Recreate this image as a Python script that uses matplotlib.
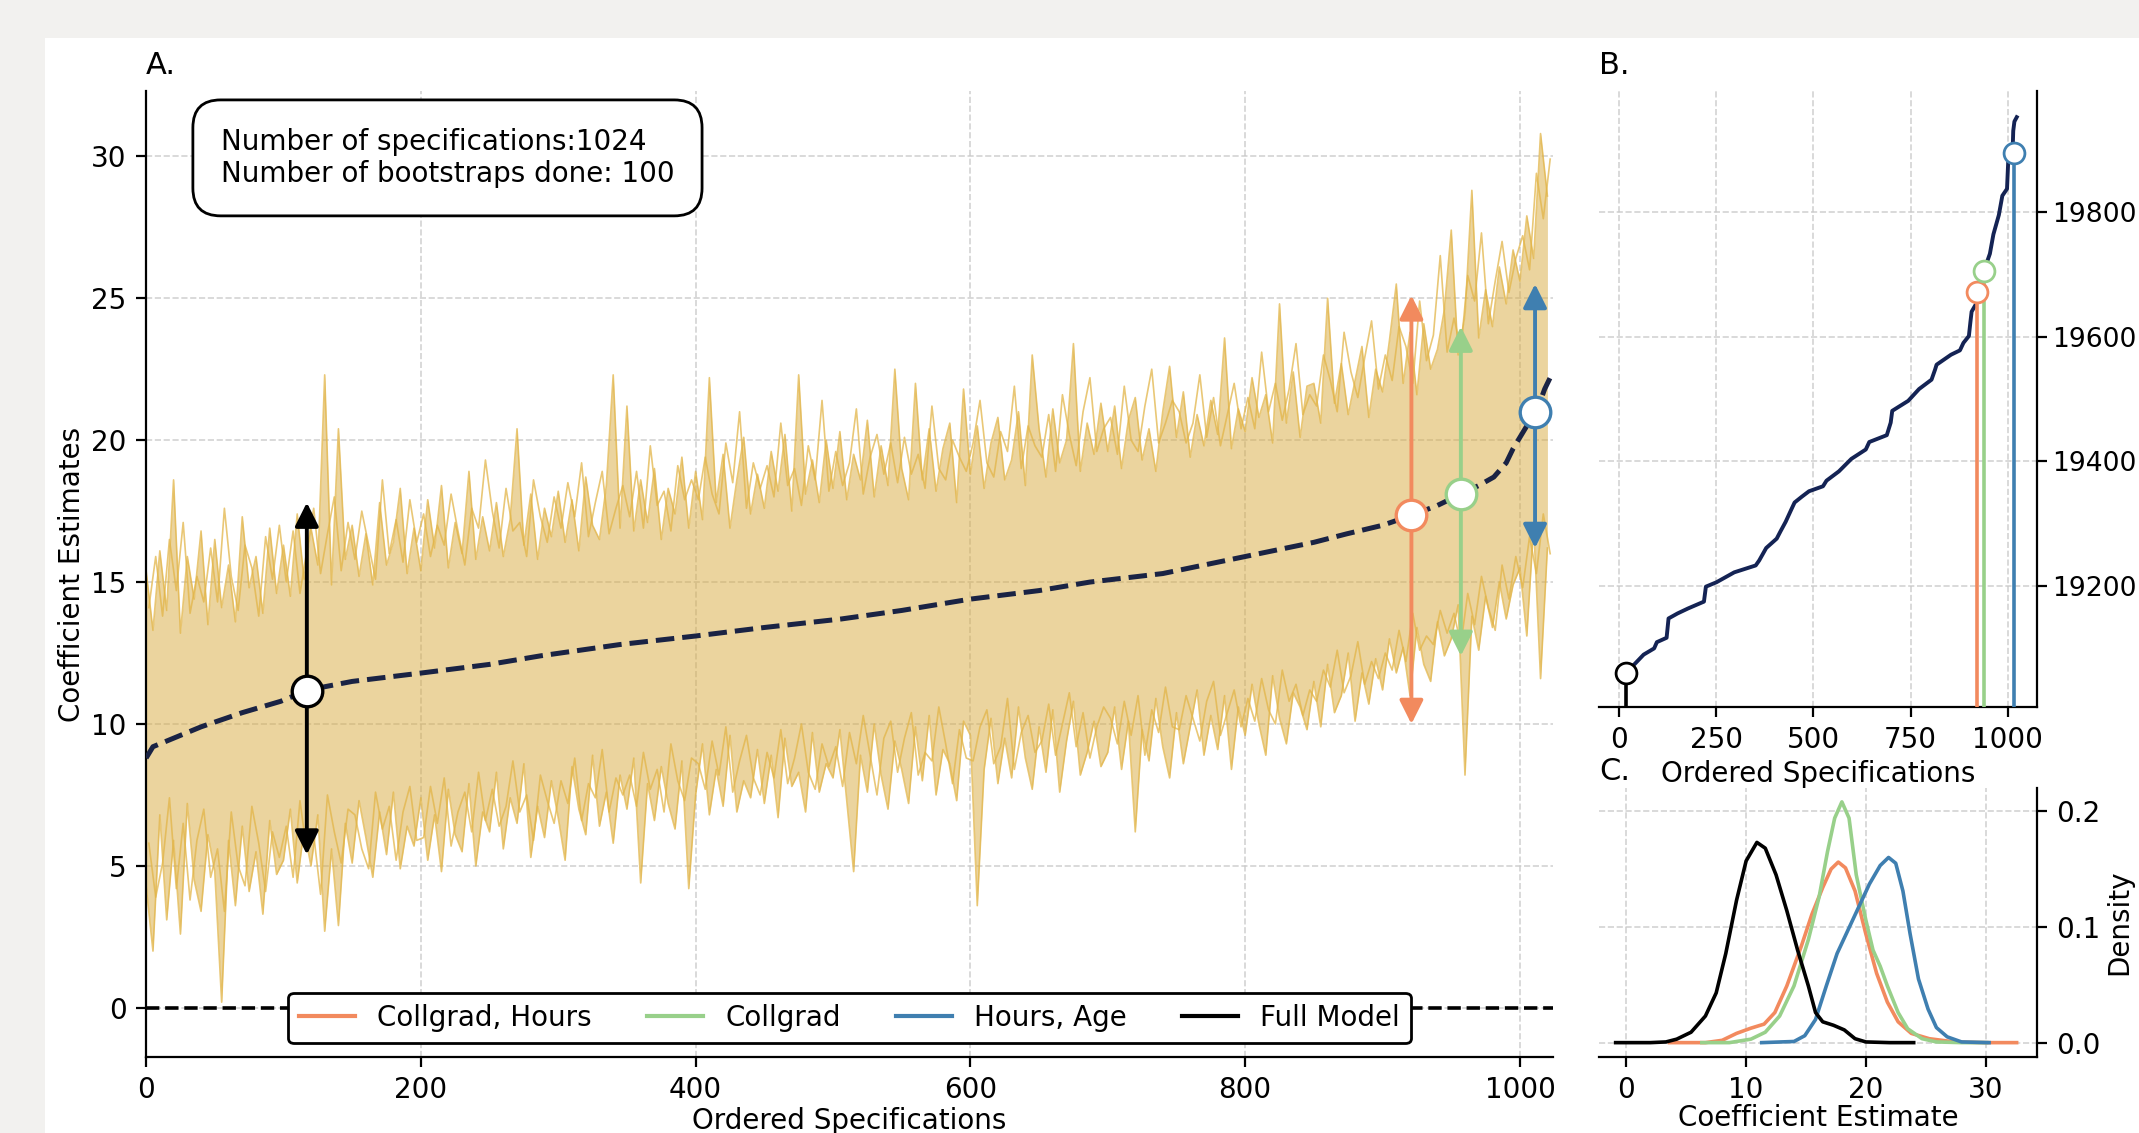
"""Specification curve figure: bootstrapped coefficient band (A),
ordered information criterion (B) and coefficient densities (C)."""

import numpy as np
import matplotlib

matplotlib.use("Agg")
import matplotlib.pyplot as plt
from matplotlib.lines import Line2D
from matplotlib.patches import Rectangle

plt.rcParams["font.size"] = 10

# ---- panel A: bootstrap band, sampled every 5 specifications ----
band_spec = np.arange(0, 1021, 5)
band_upper = [
    15.4, 13.3, 16.1, 14.0, 18.6, 13.2, 15.9, 14.4, 16.8, 13.5,
    16.5, 14.1, 15.6, 13.6, 17.3, 14.8, 15.9, 13.9, 16.9, 14.6,
    16.3, 14.5, 17.4, 15.1, 16.9, 15.6, 22.3, 14.9, 20.4, 15.8,
    17.0, 15.2, 16.7, 14.9, 17.8, 15.6, 16.4, 18.3, 15.3, 16.9,
    15.4, 17.9, 16.2, 18.4, 15.5, 17.1, 16.0, 18.9, 15.8, 17.3,
    16.1, 17.8, 15.9, 17.2, 20.4, 16.3, 18.1, 15.8, 17.6, 16.6,
    18.2, 16.4, 17.9, 16.1, 18.7, 17.0, 16.5, 18.4, 22.3, 16.9,
    21.2, 16.8, 18.6, 17.1, 19.0, 16.5, 18.3, 17.4, 19.4, 16.9,
    18.9, 17.2, 22.2, 17.8, 19.5, 16.9, 18.6, 20.1, 17.4, 18.8,
    17.6, 19.6, 18.2, 20.2, 17.5, 22.3, 18.1, 19.3, 17.8, 20.0,
    18.3, 20.3, 17.9, 19.5, 18.6, 20.7, 18.0, 19.8, 18.4, 22.5,
    19.0, 17.9, 22.0, 18.6, 20.4, 18.2, 19.7, 20.6, 17.8, 21.8,
    18.8, 20.5, 18.3, 19.9, 20.8, 18.6, 19.3, 21.0, 18.4, 23.0,
    20.4, 18.7, 21.1, 19.2, 20.0, 23.4, 18.9, 20.6, 19.5, 21.3,
    19.6, 21.2, 19.0, 20.7, 21.5, 19.3, 20.4, 18.9, 21.0, 22.6,
    20.1, 21.7, 19.4, 20.9, 19.8, 21.4, 20.2, 23.6, 19.7, 21.1,
    20.3, 22.2, 20.8, 21.6, 19.9, 24.8, 20.6, 22.4, 20.1, 21.9,
    22.0, 20.6, 25.0, 21.3, 22.7, 20.9, 22.1, 23.3, 20.8, 22.5,
    21.7, 23.5, 25.5, 22.0, 23.8, 21.6, 24.1, 22.5, 23.2, 24.6,
    27.4, 23.0, 24.4, 28.8, 23.6, 25.3, 24.0, 26.1, 24.8, 26.7,
    25.6, 27.9, 26.4, 30.8, 28.6,
]
band_lower = [
    4.3, 2.0, 6.8, 3.1, 5.9, 2.6, 7.2, 4.5, 3.4, 6.1,
    4.8, 0.2, 5.9, 3.6, 6.4, 4.1, 5.5, 3.3, 6.6, 4.7,
    5.2, 7.0, 4.4, 6.3, 5.0, 6.8, 2.7, 5.6, 2.9, 6.5,
    5.1, 7.3, 6.0, 4.6, 6.9, 5.4, 7.6, 4.9, 6.4, 5.7,
    7.4, 5.2, 6.8, 4.8, 7.7, 6.1, 5.5, 7.9, 5.0, 6.9,
    6.2, 8.3, 5.6, 7.4, 6.5, 8.6, 5.3, 7.1, 6.0, 8.0,
    6.7, 5.2, 8.5, 7.0, 6.1, 8.9, 6.4, 7.6, 5.8, 8.2,
    7.0, 8.8, 4.4, 7.9, 6.6, 8.5, 7.2, 6.3, 8.7, 4.2,
    7.5, 9.3, 6.8, 8.4, 7.1, 9.6, 6.9, 8.0, 7.4, 9.1,
    7.2, 8.9, 6.7, 9.5, 7.8, 8.3, 6.9, 9.7, 7.6, 8.6,
    8.1, 9.8, 7.3, 4.8, 8.9, 7.6, 10.0, 8.2, 7.0, 9.4,
    8.4, 7.2, 9.9, 8.0, 10.3, 7.5, 9.1, 8.6, 7.3, 10.1,
    9.6, 3.6, 8.4, 10.2, 7.9, 9.5, 8.1, 10.6, 8.8, 7.7,
    9.9, 8.3, 10.5, 7.6, 9.4, 10.8, 8.2, 9.0, 10.1, 8.5,
    9.0, 10.6, 8.4, 10.1, 6.2, 9.8, 8.7, 10.9, 9.2, 8.1,
    10.4, 8.6, 9.9, 11.2, 8.9, 10.3, 9.1, 11.0, 8.4, 10.6,
    9.6, 11.4, 10.0, 8.9, 11.7, 10.2, 9.3, 11.1, 10.6, 9.8,
    11.5, 9.9, 12.1, 10.4, 11.0, 12.5, 10.1, 11.8, 10.7, 12.3,
    11.2, 13.0, 11.8, 12.7, 11.0, 13.4, 12.1, 11.5, 13.6, 12.4,
    13.0, 14.2, 8.2, 13.8, 12.6, 14.5, 13.4, 15.0, 13.7, 14.9,
    15.5, 13.1, 17.0, 11.6, 16.2,
]

# second bootstrap bound line, sampled in between (specs 2, 7, 12, ...)
band_spec_b = np.arange(2, 1023, 5)
band_upper_b = [
    14.1, 15.9, 13.8, 16.5, 14.7, 17.1, 13.9, 15.2, 14.3, 16.2,
    14.3, 17.6, 15.2, 14.0, 16.3, 15.5, 13.8, 16.6, 15.1, 17.0,
    15.0, 16.8, 14.6, 16.1, 17.6, 15.3, 16.7, 18.0, 15.4, 17.1,
    15.8, 17.5, 16.3, 15.1, 18.6, 16.0, 17.2, 15.7, 17.9, 16.4,
    17.4, 15.9, 17.0, 16.3, 18.1, 16.8, 15.6, 17.6, 16.9, 19.3,
    17.5, 16.2, 18.3, 16.8, 17.1, 15.9, 18.6, 17.3, 16.4, 18.0,
    16.9, 18.5, 17.3, 19.2, 16.6, 17.8, 18.9, 16.7, 17.6, 18.4,
    17.3, 18.9, 16.9, 19.8, 17.7, 18.2, 16.8, 19.1, 17.9, 18.6,
    17.9, 19.4, 18.1, 17.4, 19.9, 18.5, 21.0, 17.6, 19.2, 18.3,
    19.1, 18.0, 20.6, 18.4, 19.0, 17.7, 19.8, 18.6, 21.4, 18.2,
    19.6, 18.4, 19.2, 21.1, 18.1, 19.4, 20.2, 18.8, 19.9, 18.5,
    20.1, 18.8, 19.5, 18.3, 21.2, 19.0, 18.6, 20.0, 19.4, 18.9,
    19.9, 21.4, 19.2, 18.7, 20.3, 19.6, 21.9, 19.0, 20.5, 19.8,
    19.4, 20.9, 18.9, 21.6, 20.2, 19.1, 21.0, 22.2, 19.6, 20.4,
    20.8, 19.5, 21.9, 20.0, 19.6, 21.2, 22.5, 19.9, 20.6, 21.4,
    21.0, 19.9, 20.6, 22.3, 20.1, 21.5, 19.8, 20.9, 22.0, 20.4,
    21.5, 20.4, 23.1, 21.0, 22.0, 20.7, 21.8, 23.4, 20.9, 21.6,
    21.2, 23.0, 22.1, 21.0, 23.8, 22.4, 21.5, 22.9, 24.2, 21.8,
    23.0, 22.1, 24.0, 23.3, 22.0, 24.9, 22.8, 23.7, 26.5, 23.1,
    24.3, 23.2, 25.8, 24.9, 27.3, 24.1, 25.6, 27.0, 25.2, 26.4,
    27.2, 26.0, 29.4, 27.8, 29.9,
]
band_lower_b = [
    5.8, 3.9, 5.1, 7.4, 4.2, 6.5, 3.8, 5.9, 7.0, 4.6,
    5.6, 3.4, 6.9, 5.0, 4.3, 7.1, 5.8, 4.1, 6.2, 5.3,
    6.4, 4.6, 7.3, 5.5, 6.1, 4.0, 7.5, 6.2, 5.1, 7.0,
    6.8, 5.6, 4.9, 7.6, 6.3, 7.1, 5.2, 6.9, 7.8, 5.9,
    6.0, 7.8, 6.5, 8.1, 5.7, 6.9, 7.6, 6.2, 8.3, 6.6,
    7.7, 6.4, 7.1, 8.7, 6.9, 7.5, 5.9, 8.2, 7.3, 6.5,
    8.0, 7.2, 8.8, 6.6, 7.9, 7.4, 9.1, 6.9, 8.1, 7.5,
    8.2, 7.1, 9.0, 7.7, 8.4, 6.9, 9.3, 8.0, 7.3, 8.8,
    8.6, 7.7, 9.4, 8.2, 9.9, 7.6, 8.7, 9.6, 8.1, 7.5,
    9.0, 8.1, 9.8, 7.9, 8.8, 10.0, 8.3, 7.7, 9.3, 8.5,
    9.2, 7.8, 9.7, 8.6, 10.3, 8.9, 7.5, 9.5, 10.1, 8.3,
    9.5, 10.4, 8.2, 9.0, 8.7, 10.6, 9.3, 7.9, 9.8, 8.8,
    8.7, 9.9, 10.5, 8.6, 9.2, 10.9, 8.4, 9.7, 10.3, 9.0,
    9.4, 10.7, 8.9, 10.0, 11.1, 9.2, 10.4, 8.8, 9.9, 10.6,
    10.2, 9.3, 10.8, 9.6, 11.0, 8.9, 10.5, 9.7, 11.3, 9.9,
    9.8, 11.0, 10.2, 9.4, 10.8, 11.5, 9.6, 10.4, 11.2, 9.9,
    10.9, 10.1, 11.6, 10.5, 10.0, 11.9, 10.8, 11.4, 10.3, 11.2,
    10.8, 11.9, 11.3, 12.6, 11.1, 11.7, 12.9, 11.4, 12.2, 11.6,
    12.5, 11.9, 13.3, 12.2, 13.9, 12.6, 13.1, 12.8, 14.0, 13.2,
    13.9, 12.8, 14.6, 13.5, 15.2, 14.1, 13.3, 15.6, 14.4, 15.9,
    14.8, 16.6, 15.3, 17.4, 16.0,
]

# median coefficient of the ordered specifications
median_spec = [0, 5, 10, 40, 70, 98, 118, 150, 201, 250, 287, 345, 400, 450,
               506, 550, 600, 650, 687, 740, 800, 850, 874, 900, 921, 940,
               957, 970, 981, 990, 995, 1005, 1012, 1018, 1023]
median_coef = [8.8, 9.2, 9.3, 9.9, 10.4, 10.8, 11.2, 11.5, 11.8, 12.1, 12.4,
               12.8, 13.1, 13.4, 13.7, 14.0, 14.4, 14.7, 15.0, 15.3, 15.9,
               16.4, 16.7, 17.0, 17.35, 17.7, 18.1, 18.4, 18.7, 19.2, 19.7,
               20.5, 21.0, 21.8, 22.3]

# highlighted models
model_names = ["Collgrad, Hours", "Collgrad", "Hours, Age", "Full Model"]
model_colors = ["#f28a5e", "#98d08a", "#3f7fb0", "black"]
model_rank_a = [921, 957, 1011, 117]
model_coef = [17.35, 18.1, 21.0, 11.15]
model_ci_low = [10.0, 12.4, 16.2, 5.4]
model_ci_high = [25.1, 24.0, 25.5, 17.8]
model_rank_b = [922, 939, 1015, 18]
model_ic = [19671, 19706, 19895, 19061]

n_specs = 1024
n_boot = 100

# ---- panel B: ordered information criterion ----
ic_spec = [0, 41, 64, 91, 98, 123, 128, 151, 178, 219, 224, 251, 297, 352,
           361, 379, 406, 416, 429, 443, 452, 470, 489, 525, 534, 566, 598,
           635, 644, 689, 699, 703, 744, 772, 804, 813, 817, 854, 877, 886,
           900, 904, 907, 918, 930, 954, 963, 977, 986, 998, 1001, 1012,
           1014, 1017, 1023]
ic_value = [19052, 19075, 19090, 19100, 19110, 19117, 19148, 19156, 19164,
            19175, 19199, 19206, 19222, 19233, 19241, 19261, 19276, 19288,
            19303, 19322, 19334, 19343, 19352, 19360, 19369, 19384, 19404,
            19419, 19431, 19442, 19462, 19481, 19497, 19516, 19531, 19547,
            19555, 19571, 19578, 19590, 19601, 19624, 19640, 19652, 19690,
            19733, 19764, 19795, 19826, 19837, 19880, 19890, 19930, 19945,
            19952]

# ---- panel C: coefficient densities ----
dens_x = {
    "Collgrad, Hours": [3.6, 6.6, 8.0, 9.2, 10.4, 11.5, 12.4, 13.4, 14.6, 15.5,
                        16.4, 17.1, 17.7, 18.3, 19.1, 20.0, 20.9, 21.8, 22.7,
                        23.8, 25.3, 27.4, 30.0, 32.6],
    "Collgrad": [6.3, 8.6, 10.4, 11.6, 12.8, 14.0, 15.2, 16.1, 16.8, 17.4, 18.0,
                 18.6, 19.2, 20.0, 20.6, 21.2, 21.8, 22.7, 23.5, 24.7, 25.9,
                 28.0, 30.1],
    "Hours, Age": [11.3, 14.0, 14.9, 15.8, 16.7, 17.6, 18.5, 19.4, 20.3, 21.2,
                   21.9, 22.5, 23.1, 23.7, 24.4, 25.2, 25.9, 26.8, 28.0, 30.3],
    "Full Model": [-0.9, 2.0, 3.3, 4.2, 5.4, 6.6, 7.5, 8.3, 9.2, 10.0, 10.9,
                   11.6, 12.5, 13.4, 14.3, 15.2, 15.8, 16.4, 17.3, 18.2, 19.1,
                   20.0, 22.0, 24.0],
}
dens_y = {
    "Collgrad, Hours": [0, 0, 0.002, 0.008, 0.0125, 0.016, 0.026, 0.049, 0.083,
                        0.111, 0.134, 0.150, 0.156, 0.151, 0.131, 0.094, 0.060,
                        0.035, 0.018, 0.008, 0.0034, 0.0006, 0, 0],
    "Collgrad": [0, 0, 0.003, 0.009, 0.023, 0.049, 0.089, 0.126, 0.165, 0.194,
                 0.208, 0.194, 0.145, 0.106, 0.080, 0.066, 0.049, 0.026, 0.012,
                 0.0034, 0.0006, 0, 0],
    "Hours, Age": [0, 0.001, 0.006, 0.020, 0.049, 0.077, 0.097, 0.117, 0.137,
                   0.153, 0.160, 0.155, 0.131, 0.094, 0.055, 0.029, 0.013,
                   0.005, 0.0006, 0],
    "Full Model": [0, 0, 0.0006, 0.003, 0.009, 0.023, 0.043, 0.077, 0.123,
                   0.157, 0.173, 0.168, 0.145, 0.114, 0.080, 0.049, 0.026,
                   0.018, 0.015, 0.011, 0.0034, 0.0006, 0, 0],
}

GRID = dict(color="#c8c8c8", linestyle="--", linewidth=0.6, alpha=0.8)
BAND_LINE = "#e2b548"

fig = plt.figure(figsize=(2139 / 200, 1133 / 200), dpi=200)
fig.patch.set_facecolor("#f2f1ef")
fig.add_artist(Rectangle((45 / 2139, 0), 1, 1 - 38 / 1133,
                         transform=fig.transFigure, fc="white", ec="none",
                         zorder=-10))

ax_a = fig.add_axes([0.0683, 0.0671, 0.6577, 0.8526])
ax_b = fig.add_axes([0.7475, 0.376, 0.2048, 0.5437])
ax_c = fig.add_axes([0.7475, 0.0675, 0.2048, 0.237])

# ---- A ----
ax_a.fill_between(band_spec, band_lower, band_upper, color="#d9ad45",
                  alpha=0.52, lw=0, zorder=1)
for xs, ys in [(band_spec, band_upper), (band_spec, band_lower),
               (band_spec_b, band_upper_b), (band_spec_b, band_lower_b)]:
    ax_a.plot(xs, ys, color=BAND_LINE, lw=0.6, alpha=0.75, zorder=2)
ax_a.axhline(0, color="black", ls="--", lw=1.3, zorder=2)
ax_a.plot(median_spec, median_coef, color="#1a2344", ls="--", lw=1.8, zorder=3)

for rank, coef, lo, hi, col in zip(model_rank_a, model_coef, model_ci_low,
                                   model_ci_high, model_colors):
    ax_a.annotate("", xy=(rank, hi), xytext=(rank, lo),
                  arrowprops=dict(arrowstyle="<|-|>", color=col, lw=1.4,
                                  mutation_scale=18, shrinkA=0, shrinkB=0),
                  zorder=4)
    ax_a.plot(rank, coef, "o", ms=11, mfc="white", mec=col, mew=1.2, zorder=5)

ax_a.text(0.053, 0.962,
          f"Number of specifications:{n_specs}\nNumber of bootstraps done: {n_boot}",
          transform=ax_a.transAxes, ha="left", va="top", zorder=6,
          bbox=dict(boxstyle="round,pad=1", fc="white", ec="black", lw=1))

handles = [Line2D([], [], color=c, lw=1.5) for c in model_colors]
leg = ax_a.legend(handles, model_names, loc="lower center", ncol=4,
                  framealpha=1, edgecolor="black", fancybox=True)
leg.get_frame().set_linewidth(1.0)
leg.set_zorder(7)

ax_a.set_xlim(0, 1024)
ax_a.set_ylim(-1.73, 32.3)
ax_a.set_xticks([0, 200, 400, 600, 800, 1000])
ax_a.set_yticks([0, 5, 10, 15, 20, 25, 30])
ax_a.grid(True, **GRID)
ax_a.set_axisbelow(True)
ax_a.spines[["top", "right"]].set_visible(False)
ax_a.set_xlabel("Ordered Specifications", labelpad=1)
ax_a.set_ylabel("Coefficient Estimates", labelpad=2)
ax_a.set_title("A.", loc="left", fontsize=11)

# ---- B ----
b_bottom = 19006
ax_b.plot(ic_spec, ic_value, color="#142354", lw=1.4, zorder=2)
for rank, val, col in zip(model_rank_b, model_ic, model_colors):
    ax_b.vlines(rank, b_bottom, val, color=col, lw=1.3, zorder=3)
    ax_b.plot(rank, val, "o", ms=7.5, mfc="white", mec=col, mew=1.0, zorder=4)
ax_b.set_xlim(-51, 1075)
ax_b.set_ylim(b_bottom, 19994)
ax_b.set_xticks([0, 250, 500, 750, 1000])
ax_b.set_yticks([19200, 19400, 19600, 19800])
ax_b.yaxis.tick_right()
ax_b.tick_params(axis="y", pad=2, labelsize=9.6)
ax_b.grid(True, **GRID)
ax_b.set_axisbelow(True)
ax_b.spines[["top", "left"]].set_visible(False)
ax_b.set_xlabel("Ordered Specifications", labelpad=2)
ax_b.set_title("B.", loc="left", fontsize=11)

# ---- C ----
for name, col in zip(model_names, model_colors):
    ax_c.plot(dens_x[name], dens_y[name], color=col, lw=1.3)
ax_c.set_xlim(-2.3, 34.3)
ax_c.set_ylim(-0.012, 0.22)
ax_c.set_xticks([0, 10, 20, 30])
ax_c.set_yticks([0.0, 0.1, 0.2])
ax_c.yaxis.tick_right()
ax_c.yaxis.set_label_position("right")
ax_c.grid(True, **GRID)
ax_c.set_axisbelow(True)
ax_c.spines[["top", "left"]].set_visible(False)
ax_c.set_xlabel("Coefficient Estimate", labelpad=0)
ax_c.set_ylabel("Density", labelpad=1.5)
ax_c.set_title("C.", loc="left", fontsize=11, pad=3)

fig.savefig("out.png", dpi=200, facecolor=fig.get_facecolor())
